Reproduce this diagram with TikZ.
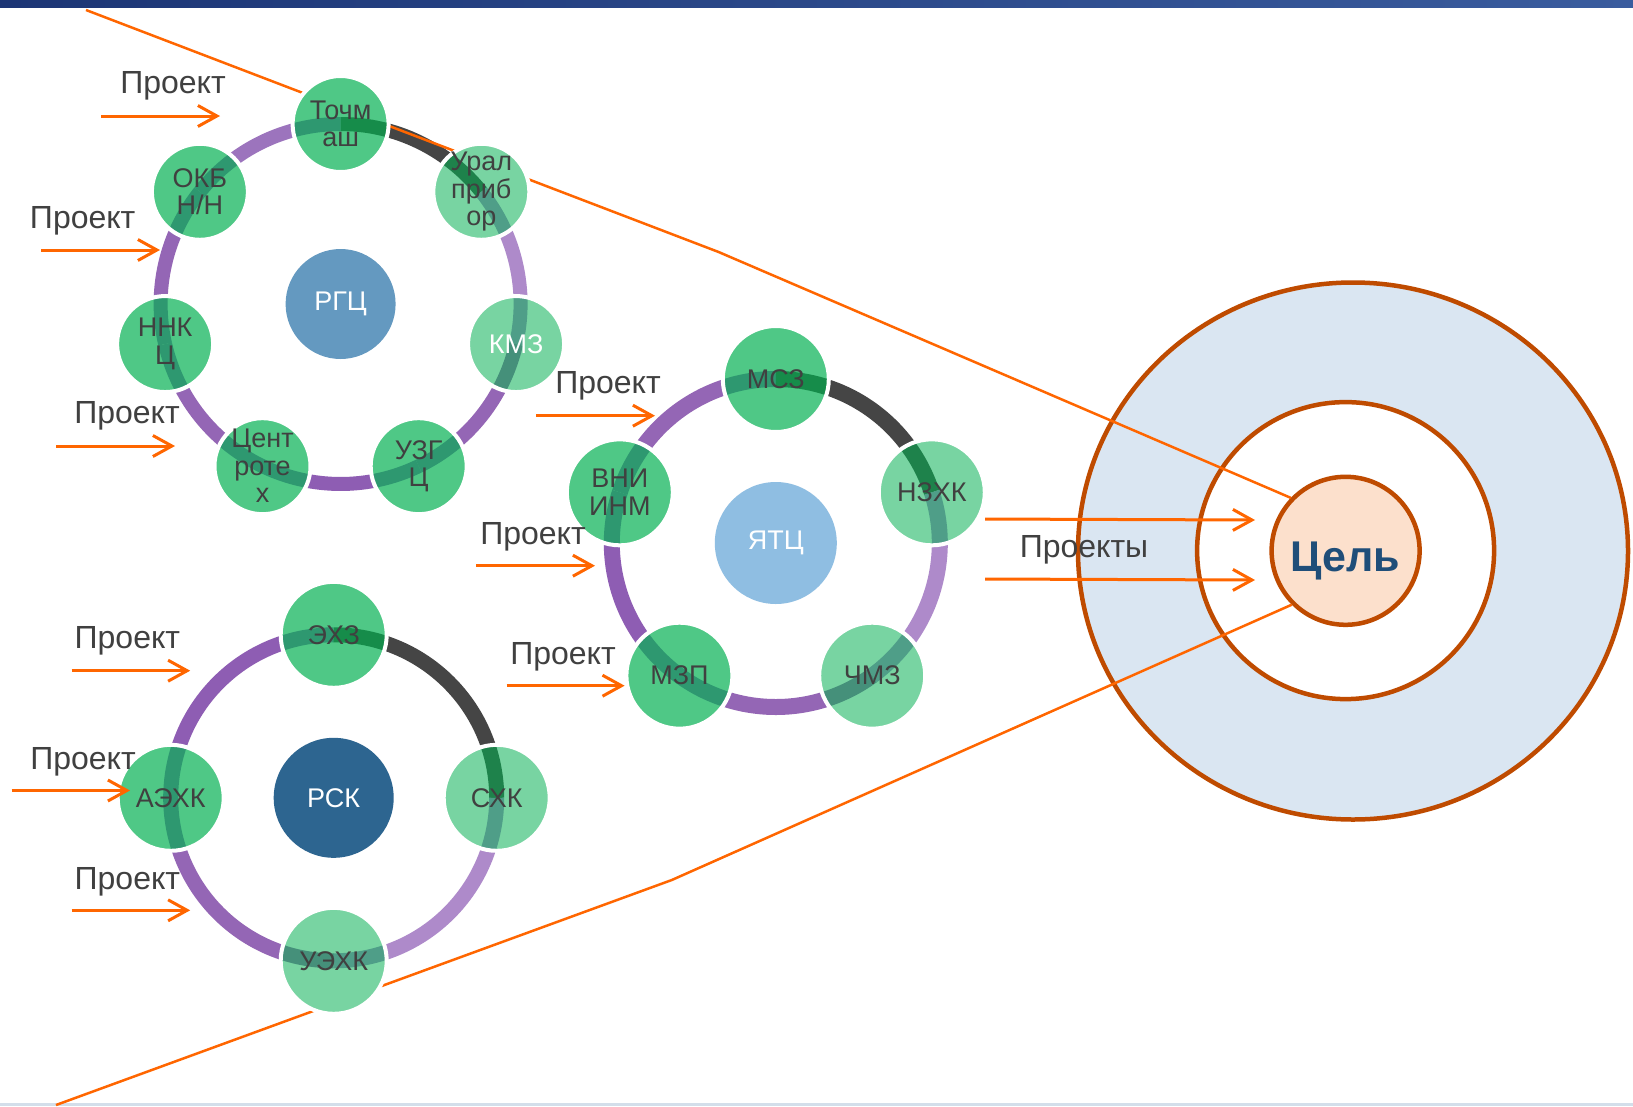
\documentclass[tikz,border=0pt]{standalone}
\usepackage{fontspec}
\setmainfont{Liberation Sans}
\usepackage{tikz}
\usetikzlibrary{arrows.meta}
\usetikzlibrary{shapes.geometric}
\usetikzlibrary{positioning}
\definecolor{textgray}{HTML}{404040}
\definecolor{unitgreen}{HTML}{4FC886}
\definecolor{unitlight}{HTML}{78D4A2}
\definecolor{ringgray}{HTML}{454545}
\definecolor{ringlilac}{HTML}{AE8ACA}
\definecolor{ringviolet}{HTML}{9466B5}
\definecolor{ringdeep}{HTML}{8E5DB3}
\definecolor{ringsoft}{HTML}{9C74BD}
\definecolor{bandp}{HTML}{2E9870}
\definecolor{bandg}{HTML}{168C4A}
\definecolor{bandlg}{HTML}{1E824B}
\definecolor{bandll}{HTML}{4F9E88}
\definecolor{bandlp}{HTML}{45907A}
\definecolor{rgcblue}{HTML}{6499C0}
\definecolor{ytcblue}{HTML}{8FBEE2}
\definecolor{rskblue}{HTML}{2D6590}
\definecolor{orangeln}{HTML}{FF6600}
\definecolor{goalrim}{HTML}{BF4B00}
\definecolor{goalblue}{HTML}{DAE6F2}
\definecolor{goalpeach}{HTML}{FCE0CC}
\definecolor{goaltext}{HTML}{1F4E79}
\definecolor{barblue}{HTML}{1C3575}
\definecolor{barlight}{HTML}{3A5C9E}
\definecolor{footgray}{HTML}{D3DEEA}
\pgfdeclarelayer{back}
\pgfsetlayers{back,main}
\tikzstyle{unit} = [circle, draw=white, line width=4pt, fill=unitgreen,
    text=textgray, align=center, inner sep=-30pt, minimum size=106pt,
    font=\fontsize{27}{27.5}\selectfont]
\tikzstyle{lightunit} = [unit, fill=unitlight]
\tikzstyle{hub} = [circle, inner sep=0pt, text=white,
    font=\fontsize{27}{30}\selectfont]
\tikzstyle{ring} = [line width=15pt]
\tikzstyle{line} = [draw, orangeln, line width=3pt,
    -{Straight Barb[length=19pt, width=21pt]}]
\tikzstyle{focus} = [draw, orangeln, line width=2.5pt]
\tikzstyle{prj} = [text=textgray, inner sep=0pt,
    font=\fontsize{32}{36}\selectfont]
\tikzstyle{goal} = [draw=goalrim, line width=4.5pt, inner sep=0pt]
\tikzset{band/.style n args={5}{path picture={
    \draw[line width=#5, #3] (path picture bounding box.center)
        arc[start angle=#1, end angle=#1-20, radius=#2];
    \draw[line width=#5, #4] (path picture bounding box.center)
        arc[start angle=#1, end angle=#1+20, radius=#2];}}}

\begin{document}
\begin{tikzpicture}[x=1pt, y=-1pt]
    \useasboundingbox (0,0) rectangle (1633,1106);
    % Place nodes
    \node[hub, fill=rgcblue, minimum size=110pt] (rgc) at (340.6,304) {РГЦ};
    \node[unit, minimum size=96pt, band={-90}{180}{bandp}{bandg}{14pt}] (tochmash) at ([shift={(-90:180)}]rgc.center) {Точм\\аш};
    \node[lightunit, minimum size=96pt, band={-38.571}{180}{bandlg}{bandll}{14pt}] (uralpribor) at ([shift={(-38.571:180)}]rgc.center) {Урал\\приб\\ор};
    \node[lightunit, minimum size=96pt, text=white, band={12.857}{180}{bandll}{bandlp}{14pt}] (kmz) at ([shift={(12.857:180)}]rgc.center) {КМЗ};
    \node[unit, minimum size=96pt, band={64.286}{180}{bandp}{bandp}{14pt}] (uzgc) at ([shift={(64.286:180)}]rgc.center) {УЗГ\\Ц};
    \node[unit, minimum size=96pt, band={115.714}{180}{bandp}{bandp}{14pt}] (centrotech) at ([shift={(115.714:180)}]rgc.center) {Цент\\роте\\х};
    \node[unit, minimum size=96pt, band={167.143}{180}{bandp}{bandp}{14pt}] (nnkc) at ([shift={(167.143:180)}]rgc.center) {ННК\\Ц};
    \node[unit, minimum size=96pt, band={218.571}{180}{bandp}{bandp}{14pt}] (okb) at ([shift={(218.571:180)}]rgc.center) {ОКБ\\Н/Н};

    \node[hub, fill=ytcblue, minimum size=122pt] (ytc) at (775.8,543) {ЯТЦ};
    \node[unit, band={-90}{164}{bandp}{bandg}{16pt}] (msz) at ([shift={(-90:164)}]ytc.center) {МСЗ};
    \node[lightunit, band={-18}{164}{bandlg}{bandll}{16pt}] (nzhk) at ([shift={(-18:164)}]ytc.center) {НЗХК};
    \node[lightunit, band={54}{164}{bandll}{bandlp}{16pt}] (chmz) at ([shift={(54:164)}]ytc.center) {ЧМЗ};
    \node[unit, band={126}{164}{bandp}{bandp}{16pt}] (mzp) at ([shift={(126:164)}]ytc.center) {МЗП};
    \node[unit, band={198}{164}{bandp}{bandp}{16pt}] (vniinm) at ([shift={(198:164)}]ytc.center) {ВНИ\\ИНМ};

    \node[hub, fill=rskblue, minimum size=120pt] (rsk) at (333.7,797.8) {РСК};
    \node[unit, band={-90}{163}{bandp}{bandg}{15pt}] (ehz) at ([shift={(-90:163)}]rsk.center) {ЭХЗ};
    \node[lightunit, band={0}{163}{bandlg}{bandll}{15pt}] (shk) at ([shift={(0:163)}]rsk.center) {СХК};
    \node[lightunit, band={90}{163}{bandll}{bandlp}{15pt}] (uehk) at ([shift={(90:163)}]rsk.center) {УЭХК};
    \node[unit, band={180}{163}{bandp}{bandp}{15pt}] (aehk) at ([shift={(180:163)}]rsk.center) {АЭХК};

    \begin{pgfonlayer}{back}
    \fill[white] (0,0) rectangle (1633,1106);
    \shade[left color=barblue, right color=barlight] (0,0) rectangle (1633,7);
    \fill[footgray] (0,1103) rectangle (1633,1106);
    % Target
    \node[goal, ellipse, fill=goalblue, minimum width=550pt, minimum height=537pt] (outer) at (1353,551) {};
    \node[goal, circle, fill=white, minimum size=297pt] (middle) at (1345.6,550.6) {};
    \node[goal, circle, fill=goalpeach, minimum size=148pt, text=goaltext,
        font=\bfseries\fontsize{43}{50}\selectfont] (cel) at (1345.6,550.8) {\raisebox{-21pt}[0pt][0pt]{Цель}};
    % Rings
    \draw[ring, line width=14pt, ringgray] (tochmash.center) arc[start angle=-90, end angle=-38.571, radius=180];
    \draw[ring, line width=14pt, ringlilac] (uralpribor.center) arc[start angle=-38.571, end angle=12.857, radius=180];
    \draw[ring, line width=14pt, ringviolet] (kmz.center) arc[start angle=12.857, end angle=64.286, radius=180];
    \draw[ring, line width=14pt, ringdeep] (uzgc.center) arc[start angle=64.286, end angle=115.714, radius=180];
    \draw[ring, line width=14pt, ringviolet] (centrotech.center) arc[start angle=115.714, end angle=167.143, radius=180];
    \draw[ring, line width=14pt, ringviolet] (nnkc.center) arc[start angle=167.143, end angle=218.571, radius=180];
    \draw[ring, line width=14pt, ringsoft] (okb.center) arc[start angle=218.571, end angle=270, radius=180];

    \draw[ring, line width=16pt, ringgray] (msz.center) arc[start angle=-90, end angle=-18, radius=164];
    \draw[ring, line width=16pt, ringlilac] (nzhk.center) arc[start angle=-18, end angle=54, radius=164];
    \draw[ring, line width=16pt, ringviolet] (chmz.center) arc[start angle=54, end angle=126, radius=164];
    \draw[ring, line width=16pt, ringdeep] (mzp.center) arc[start angle=126, end angle=198, radius=164];
    \draw[ring, line width=16pt, ringviolet] (vniinm.center) arc[start angle=198, end angle=270, radius=164];

    \draw[ring, ringgray] (ehz.center) arc[start angle=-90, end angle=0, radius=163];
    \draw[ring, ringlilac] (shk.center) arc[start angle=0, end angle=90, radius=163];
    \draw[ring, ringviolet] (uehk.center) arc[start angle=90, end angle=180, radius=163];
    \draw[ring, ringdeep] (aehk.center) arc[start angle=180, end angle=270, radius=163];
    % Focus lines
    \coordinate (topstart) at (86,10);
    \coordinate (topbend) at (718.6,252);
    \coordinate (botstart) at (56,1105);
    \coordinate (botbend) at (671.8,880);
    \draw[focus] (topstart) -- (topbend) -- (cel.136);
    \draw[focus] (botstart) -- (botbend) -- (cel.225);
    \end{pgfonlayer}

    % Project labels
    \node[prj] (prj1) at (173,86) {Проект};
    \node[prj] (prj2) at (82.7,221) {Проект};
    \node[prj] (prj3) at (127,416) {Проект};
    \node[prj] (prj4) at (608,386) {Проект};
    \node[prj] (prj5) at (533,536.7) {Проект};
    \node[prj] (prj6) at (563,656.7) {Проект};
    \node[prj] (prj7) at (127.4,641) {Проект};
    \node[prj] (prj8) at (83,762) {Проект};
    \node[prj] (prj9) at (127.4,882) {Проект};
    \node[prj] (prjs) at (1084,550) {Проекты};
    \coordinate (a1s) at (101,116);   \coordinate (a1e) at (220,116);
    \coordinate (a2s) at (41,250);    \coordinate (a2e) at (160,250);
    \coordinate (a3s) at (56,446);    \coordinate (a3e) at (175,446);
    \coordinate (a4s) at (536.4,415.7); \coordinate (a4e) at (655,415.7);
    \coordinate (a5s) at (476,565.7); \coordinate (a5e) at (595,565.7);
    \coordinate (a6s) at (506.5,685.7); \coordinate (a6e) at (624.6,685.7);
    \coordinate (a7s) at (71.6,670.7); \coordinate (a7e) at (190.2,670.7);
    \coordinate (a8s) at (11.5,790.5); \coordinate (a8e) at (130,790.5);
    \coordinate (a9s) at (71.6,910.3); \coordinate (a9e) at (190.2,910.3);
    \coordinate (b1s) at (985,519);   \coordinate (b1e) at (1255,520);
    \coordinate (b2s) at (985,579);   \coordinate (b2e) at (1255,580);
    % Draw edges
    \path [line] (a1s) -- (a1e);
    \path [line] (a2s) -- (a2e);
    \path [line] (a3s) -- (a3e);
    \path [line] (a4s) -- (a4e);
    \path [line] (a5s) -- (a5e);
    \path [line] (a6s) -- (a6e);
    \path [line] (a7s) -- (a7e);
    \path [line] (a8s) -- (a8e);
    \path [line] (a9s) -- (a9e);
    \path [line] (b1s) -- (b1e);
    \path [line] (b2s) -- (b2e);
\end{tikzpicture}
\end{document}
